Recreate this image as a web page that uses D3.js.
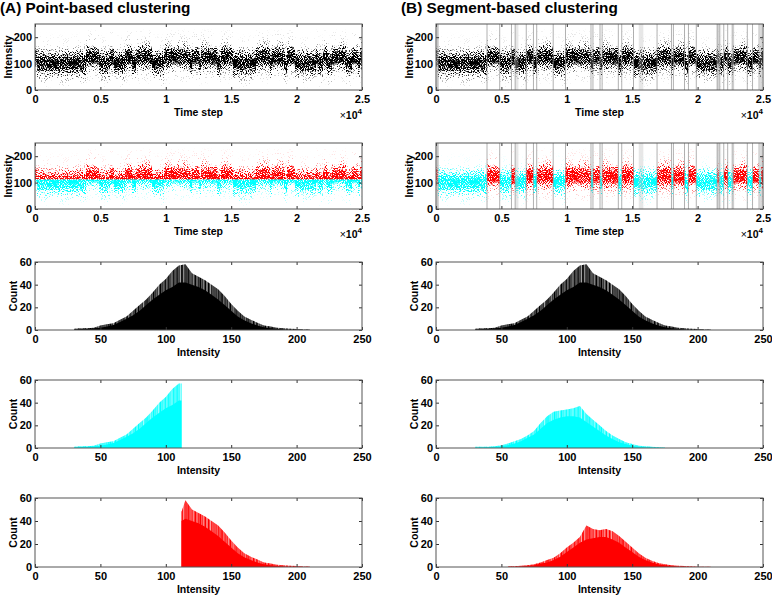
<!DOCTYPE html>
<html><head><meta charset="utf-8">
<script src="https://cdn.jsdelivr.net/npm/d3@7"></script>
<style>
body{margin:0;background:#fff}
svg{display:block}
text{font-family:"Liberation Sans",Arial,Helvetica,sans-serif}
</style>
</head><body>
<svg id="c" width="772" height="595"></svg>
<script>
// ---------------- data ----------------
const panelTitles = ["(A) Point-based clustering", "(B) Segment-based clustering"];
// hidden-state segments of the intensity trace (time step where each segment starts) and state (0 = low, 1 = high)
const segStart = [0,150,3900,4870,5770,6050,6900,7450,7700,8960,9900,11850,12000,12540,12700,13940,14200,15100,16900,18000,18150,19000,19300,19900,21500,21650,22000,22300,22700,23800,24200,24700,24850];
const segState = [1,0,1,0,1,0,1,0,1,0,1,0,1,0,1,0,1,0,1,0,1,0,1,0,1,0,1,0,1,0,1,0,1];
const timeMax = 25000;
const threshold = 112;   // point-based split intensity
// light gray change-point bands in segment-based panels
const bandStart = [0,6050,15500,21450,22550];
const bandEnd   = [180,6300,15850,21800,22800];

const timeTicks = [0,5000,10000,15000,20000,25000];
const timeTickLabels = ["0","0.5","1","1.5","2","2.5"];
const intensityTicks = [0,100,200];
const histXTicks = [0,50,100,150,200,250];
const countTicks = [0,20,40,60];

// histograms: intensity, typical bar height ("body") and spike height ("peak")
const totalX    = [30,35,40,45,50,55,60,65,70,75,80,85,90,95,100,105,110,115,120,125,130,135,140,145,150,155,160,165,170,175,180,185,190,195,200,205,210];
const totalBody = [.5,.8,1,1.5,2,3,4.5,7,10,13,17,22,27,31,35,38,42,42,40,38,35,31,27,22,17,12,8.5,6,4,2.5,1.5,1,.5,.3,.2,.1,.1];
const totalPeak = [1,1.5,1.5,2,4,5,6,9,12,17,22,27,33,40,45,52,57,58,50,47,44,40,36,30,23,17,12,9,6.5,4,3,2,1.5,1,.8,.5,.5];

const cyanAX    = [30,35,40,45,50,55,60,65,70,75,80,85,90,95,100,105,110,112];
const cyanABody = [.5,.8,1,1.5,2,3,4.5,7,10,13,17,22,27,31,35,38,42,42];
const cyanAPeak = [1,1.5,1.5,2,4,5,6,9,12,17,22,27,33,40,45,52,57,57];

const redAX    = [112,115,120,125,130,135,140,145,150,155,160,165,170,175,180,185,190,195,200,205,210];
const redABody = [40,42,40,38,35,31,27,22,17,12,8.5,6,4,2.5,1.5,1,.5,.3,.2,.1,.1];
const redAPeak = [48,58,50,47,44,40,36,30,23,17,12,9,6.5,4,3,2,1.5,1,.8,.5,.5];

const cyanBX    = [30,35,40,45,50,55,60,65,70,75,80,85,90,95,100,105,110,115,120,125,130,135,140,145,150,155,160,165,170,175];
const cyanBBody = [.3,.5,.7,1,1.5,2.5,4,6,9,12,17,22,25,27,28,28,27,23,19,15,11,8,5,3.5,2,1,.6,.4,.2,.1];
const cyanBPeak = [1,1,1.2,1.5,2.5,4,6,8,11,15,22,28,32,33,34,35,37,30,25,20,15,11,8,5,3.5,2,1.5,1,.6,.5];

const redBX    = [55,60,65,70,75,80,85,90,95,100,105,110,115,120,125,130,135,140,145,150,155,160,165,170,175,180,185,190,195,200,205,210];
const redBBody = [.2,.3,.5,1,1.5,3,4,6,9,13,17,21,24,25,26,26,24,21,17,13,9,6,4,2.5,1.5,1,.5,.3,.2,.1,.1,.1];
const redBPeak = [.5,.6,1,1.5,2.5,4,6,8,12,17,21,26,36,33,32,33,31,27,22,17,12,8,5.5,3.5,2.5,1.5,1,.8,.5,.3,.3,.3];

// ---------------- layout ----------------
const svg = d3.select("#c");
const defs = svg.append("defs");
const W = 327;
const colX = [35, 436];
const rows = [[24,90],[143,209],[262,330],[380,448],[498,567]];
const TSH = 66; // time-series panel height
const COL = {black:"#000000", cyan:"#00ffff", red:"#ff0000"};

const xTime = d3.scaleLinear().domain([0,timeMax]).range([0,W]);
const xInt = d3.scaleLinear().domain([0,250]).range([0,W]);
const yTS = d3.scaleLinear().domain([0,250]).range([TSH,0]);

// density gradients for each state built from the state histograms
const profiles = [{x:cyanBX, v:cyanBBody},{x:redBX, v:redBBody}];
function makeGrad(id, prof, color, maxOp){
  const g = defs.append("linearGradient").attr("id",id)
    .attr("gradientUnits","userSpaceOnUse")
    .attr("x1",0).attr("x2",0).attr("y1",yTS(0)).attr("y2",yTS(250));
  const op = d3.scalePow().exponent(0.5).domain([0,d3.max(prof.v)]).range([0,maxOp]);
  g.append("stop").attr("offset",0).attr("stop-color",color).attr("stop-opacity",0);
  prof.x.forEach((x,i)=>{
    g.append("stop").attr("offset",x/250).attr("stop-color",color).attr("stop-opacity",op(prof.v[i]));
  });
  g.append("stop").attr("offset",1).attr("stop-color",color).attr("stop-opacity",0);
}
["black","cyan","red"].forEach(c=>{
  [0,1].forEach(s=>makeGrad(`g_${c}_${s}`, profiles[s], COL[c], 1.0));
});
defs.append("clipPath").attr("id","clipAbove").append("rect")
  .attr("x",0).attr("y",0).attr("width",W).attr("height",yTS(threshold));
defs.append("clipPath").attr("id","clipBelow").append("rect")
  .attr("x",0).attr("y",yTS(threshold)).attr("width",W).attr("height",TSH-yTS(threshold));

// dotted (scatter-like) texture: density drawn from the gradient alpha
const fs = defs.append("filter").attr("id","speckle").attr("filterUnits","userSpaceOnUse")
  .attr("x",0).attr("y",0).attr("width",W).attr("height",TSH).attr("color-interpolation-filters","sRGB");
fs.append("feTurbulence").attr("type","fractalNoise").attr("baseFrequency",0.95).attr("numOctaves",2).attr("seed",7).attr("result","n");
fs.append("feColorMatrix").attr("in","n").attr("type","matrix")
  .attr("values","0 0 0 0 0  0 0 0 0 0  0 0 0 0 0  2.8 0 0 0 -0.9").attr("result","na");
fs.append("feComposite").attr("in","SourceAlpha").attr("in2","na").attr("operator","arithmetic")
  .attr("k1",0).attr("k2",3).attr("k3",3).attr("k4",-3.08).attr("result","m");
fs.append("feColorMatrix").attr("in","SourceGraphic").attr("type","matrix")
  .attr("values","1 0 0 0 0  0 1 0 0 0  0 0 1 0 0  0 0 0 0 1").attr("result","opaque");
fs.append("feComposite").attr("in","opaque").attr("in2","m").attr("operator","in");

// spiky streak texture for histogram spike envelopes
const fh = defs.append("filter").attr("id","streak").attr("x",0).attr("y",0).attr("width",1).attr("height",1)
  .attr("color-interpolation-filters","sRGB");
fh.append("feTurbulence").attr("type","fractalNoise").attr("baseFrequency","0.6 0.0005").attr("numOctaves",1).attr("seed",3).attr("result","n");
fh.append("feColorMatrix").attr("in","n").attr("type","matrix")
  .attr("values","0 0 0 0 0  0 0 0 0 0  0 0 0 0 0  2.6 0 0 0 -0.7").attr("result","na");
fh.append("feComposite").attr("in","SourceGraphic").attr("in2","na").attr("operator","in");

function styleAxis(sel){
  sel.select(".domain").remove();
  sel.selectAll(".tick line").attr("stroke","#333").attr("stroke-width",1);
  sel.selectAll(".tick text").attr("fill","#000").style("font-size","11px").style("font-weight","bold");
}

function frame(g, h, xs, xTicks, xLabels, ys, yTicks, yLabels, xTitle, yTitle, yTitleOff, sci){
  g.append("g").attr("transform",`translate(0,${h})`)
    .call(d3.axisBottom(xs).tickValues(xTicks).tickFormat((d,i)=>xLabels[i]).tickSize(-3).tickPadding(5.5))
    .call(styleAxis);
  g.append("g").call(d3.axisTop(xs).tickValues(xTicks).tickFormat("").tickSize(-3)).call(styleAxis);
  g.append("g").call(d3.axisLeft(ys).tickValues(yTicks).tickFormat((d,i)=>yLabels[i]).tickSize(-3).tickPadding(3))
    .call(styleAxis);
  g.append("g").attr("transform",`translate(${W},0)`)
    .call(d3.axisRight(ys).tickValues(yTicks).tickFormat("").tickSize(-3)).call(styleAxis);
  g.append("rect").attr("x",0).attr("y",0).attr("width",W).attr("height",h)
    .attr("fill","none").attr("stroke","#555").attr("stroke-width",1);
  g.append("text").attr("x",W/2).attr("y",h+25.5).attr("text-anchor","middle")
    .style("font-size","10.5px").style("font-weight","bold").text(xTitle);
  g.append("text").attr("transform",`translate(${-yTitleOff},${h/2}) rotate(-90)`)
    .attr("text-anchor","middle").style("font-size","10.5px").style("font-weight","bold").text(yTitle);
  if (sci){
    const t = g.append("text").attr("x",W).attr("y",h+29).attr("text-anchor","end")
      .style("font-size","10.5px").style("font-weight","bold");
    t.append("tspan").style("font-weight","normal").text("\u00d7");
    t.append("tspan").text("10");
    t.append("tspan").attr("dy",-5).style("font-size","8px").text("4");
  }
}

const segs = segStart.map((s,i)=>({s, e: i<segStart.length-1 ? segStart[i+1] : timeMax, st: segState[i]}));

function drawSeries(g, mode){
  const layer = g.append("g").attr("filter","url(#speckle)").append("g").attr("shape-rendering","crispEdges");
  segs.forEach(d=>{
    const x0 = xTime(d.s), w = xTime(d.e)-xTime(d.s);
    if (mode==="black"){
      layer.append("rect").attr("x",x0).attr("y",0).attr("width",w).attr("height",TSH).attr("fill",`url(#g_black_${d.st})`);
    } else if (mode==="threshold"){
      layer.append("rect").attr("x",x0).attr("y",0).attr("width",w).attr("height",TSH)
        .attr("fill",`url(#g_red_${d.st})`).attr("clip-path","url(#clipAbove)");
      layer.append("rect").attr("x",x0).attr("y",0).attr("width",w).attr("height",TSH)
        .attr("fill",`url(#g_cyan_${d.st})`).attr("clip-path","url(#clipBelow)");
    } else {
      const c = d.st===0 ? "cyan" : "red";
      layer.append("rect").attr("x",x0).attr("y",0).attr("width",w).attr("height",TSH).attr("fill",`url(#g_${c}_${d.st})`);
    }
  });
}
function drawChangePoints(g){
  bandStart.forEach((b,i)=>{
    g.append("rect").attr("x",xTime(b)).attr("y",0).attr("width",Math.max(1.5,xTime(bandEnd[i])-xTime(b)))
      .attr("height",TSH).attr("fill","#bbbbbb").attr("opacity",0.35);
  });
  segStart.slice(1).forEach(s=>{
    g.append("line").attr("x1",xTime(s)).attr("x2",xTime(s)).attr("y1",0).attr("y2",TSH)
      .attr("stroke","#909090").attr("stroke-width",1).attr("opacity",0.7);
  });
}

function drawHist(g, h, xs, body, peak, color){
  const y = d3.scaleLinear().domain([0,60]).range([h,0]);
  const a = d3.area().x((d,i)=>xInt(xs[i])).y0(h).y1(d=>y(d));
  g.append("path").attr("d",a(peak)).attr("fill",COL[color]).attr("opacity",0.35);
  g.append("path").attr("d",a(peak)).attr("fill",COL[color]).attr("filter","url(#streak)");
  g.append("path").attr("d",a(body)).attr("fill",COL[color]);
  return y;
}

[0,1].forEach(col=>{
  const cx = colX[col];
  svg.append("text").attr("x", col===0 ? 0 : 401).attr("y",12.5)
    .style("font-size","15.3px").style("font-weight","bold").text(panelTitles[col]);

  // row 1: raw trace
  let g = svg.append("g").attr("transform",`translate(${cx},${rows[0][0]})`);
  drawSeries(g,"black");
  if (col===1) drawChangePoints(g);
  frame(g, TSH, xTime, timeTicks, timeTickLabels, yTS, intensityTicks, intensityTicks.map(String), "Time step", "Intensity", 23, true);

  // row 2: clustered trace
  g = svg.append("g").attr("transform",`translate(${cx},${rows[1][0]})`);
  drawSeries(g, col===0 ? "threshold" : "state");
  if (col===1) drawChangePoints(g);
  frame(g, TSH, xTime, timeTicks, timeTickLabels, yTS, intensityTicks, intensityTicks.map(String), "Time step", "Intensity", 23, true);

  // rows 3-5: histograms
  const hists = col===0
    ? [[totalX,totalBody,totalPeak,"black"],[cyanAX,cyanABody,cyanAPeak,"cyan"],[redAX,redABody,redAPeak,"red"]]
    : [[totalX,totalBody,totalPeak,"black"],[cyanBX,cyanBBody,cyanBPeak,"cyan"],[redBX,redBBody,redBPeak,"red"]];
  hists.forEach((hd,k)=>{
    const r = rows[2+k], h = r[1]-r[0];
    const gh = svg.append("g").attr("transform",`translate(${cx},${r[0]})`);
    const y = drawHist(gh, h, hd[0], hd[1], hd[2], hd[3]);
    frame(gh, h, xInt, histXTicks, histXTicks.map(String), y, countTicks, countTicks.map(String), "Intensity", "Count", 18, false);
  });
});
</script>
</body></html>
